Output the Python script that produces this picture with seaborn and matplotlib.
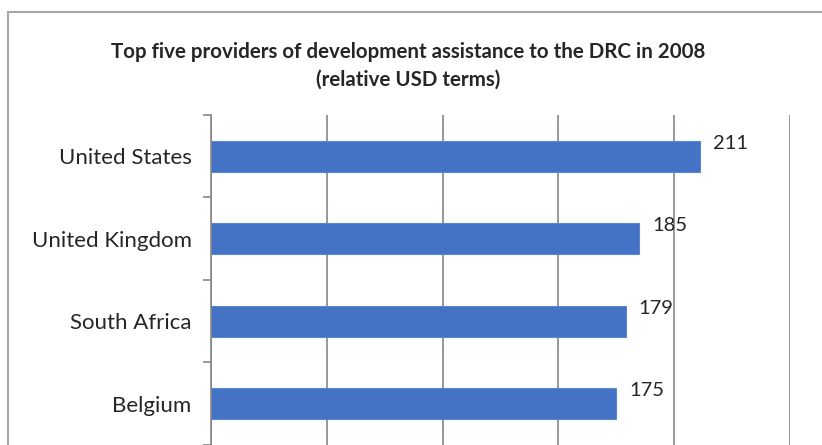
import numpy as np
import matplotlib
matplotlib.use("Agg")
import matplotlib.pyplot as plt
from matplotlib.patches import Rectangle
import seaborn as sns

sns.set_style("white")
plt.rcParams['font.family'] = ['Lato', 'DejaVu Sans']

# data (fifth provider falls below the visible crop)
providers = ["United States", "United Kingdom", "South Africa", "Belgium"]
amounts = [211, 185, 179, 175]
grid_ticks = [0, 50, 100, 150, 200, 250]

bar_color = "#4472C4"
grid_color = "#868686"

fig = plt.figure(figsize=(8.22, 4.45), dpi=100)

# outer chart frame (picture is a crop of a larger chart)
fig.add_artist(Rectangle((8 / 822, -0.1), 1.1, 0.973 + 0.1, transform=fig.transFigure,
                         fill=False, edgecolor="#A6A6A6", linewidth=1.5))

fig.text(0.497, 0.884, "Top five providers of development assistance to the DRC in 2008",
         ha="center", va="center", fontsize=14.8, fontweight="bold")
fig.text(0.497, 0.822, "(relative USD terms)",
         ha="center", va="center", fontsize=14.8, fontweight="bold")

# plot area runs off the bottom of the image, like the reference crop
ax = fig.add_axes([211 / 822, 1 - 527.5 / 445, (790 - 211) / 822, 412.5 / 445])

sns.barplot(x=amounts, y=providers, orient="h", color=bar_color, saturation=1,
            width=0.38, edgecolor="#5B86D0", linewidth=0.8, ax=ax)

ax.set_xlim(0, 250)
ax.set_ylim(4.5, -0.5)
ax.set_xticks(grid_ticks)
ax.set_xticklabels([])
ax.tick_params(axis="x", length=0)
ax.set_axisbelow(True)
ax.grid(axis="x", color=grid_color, linewidth=1.2)

ax.set_yticks(np.arange(len(providers)))
ax.set_yticklabels(providers, fontsize=16)
ax.tick_params(axis="y", which="major", length=0, pad=14)
ax.set_yticks(np.arange(-0.5, 5.0, 1.0), minor=True)
ax.tick_params(axis="y", which="minor", left=True, length=6, width=1.2,
               color=grid_color, direction="out")
ax.set_xlabel("")
ax.set_ylabel("")

for s in ["top", "right", "bottom"]:
    ax.spines[s].set_visible(False)
ax.spines["left"].set_visible(True)
ax.spines["left"].set_color(grid_color)
ax.spines["left"].set_linewidth(1.2)

for i, v in enumerate(amounts):
    ax.annotate(str(v), xy=(v, i), xytext=(13, 13), textcoords="offset pixels",
                ha="left", va="center", fontsize=14.5)

fig.savefig("out.png", dpi=100)
